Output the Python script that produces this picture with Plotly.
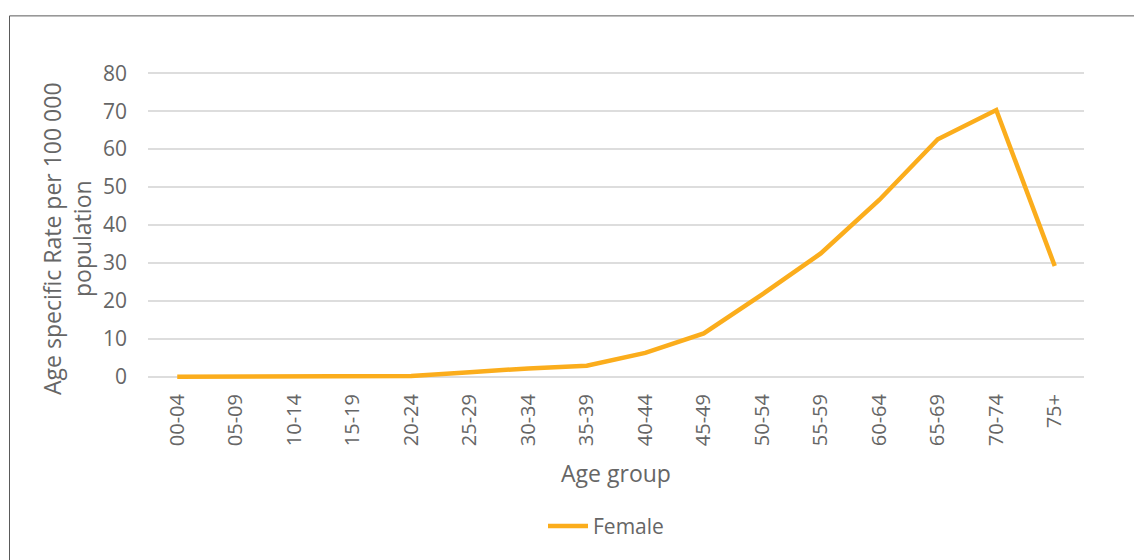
import plotly.graph_objects as go

age_groups = ["00-04", "05-09", "10-14", "15-19", "20-24", "25-29", "30-34", "35-39",
              "40-44", "45-49", "50-54", "55-59", "60-64", "65-69", "70-74", "75+"]
female_rate = [0, 0, 0, 0, 0.2, 1.2, 2.2, 2.9, 6.3, 11.4, 21.7, 32.5, 46.6, 62.6, 70.3, 29.2]
y_ticks = [0, 10, 20, 30, 40, 50, 60, 70, 80]

FONT = "Open Sans, Liberation Sans, sans-serif"
GREY = "#666666"

# page body has an 8px margin; positions below are in screenshot pixels
OFF = 8
W, H = 1142, 560
Y_MIN, Y_MAX, PAD = 0, 80, 0.6
y0_px, y80_px = 377, 73
ppu = (y0_px - y80_px) / (Y_MAX - Y_MIN)
plot_left, plot_right = 148, 1084
plot_top = y80_px - PAD * ppu
plot_bottom = y0_px + PAD * ppu
L = plot_left - OFF
T = plot_top - OFF
R = W - (plot_right - OFF)
B = H - (plot_bottom - OFF)
pw, ph = plot_right - plot_left, plot_bottom - plot_top


def px_x(p):
    return (p - plot_left) / pw


def px_y(p):
    return (plot_bottom - p) / ph


fig = go.Figure()
fig.add_trace(go.Scatter(
    x=age_groups, y=female_rate, mode="lines", name="Female",
    line=dict(color="#FBAD1C", width=4.5), cliponaxis=False,
))

fig.update_layout(
    width=W, height=H,
    margin=dict(l=L, r=R, t=T, b=B),
    paper_bgcolor="white", plot_bgcolor="white",
    font=dict(family=FONT, color=GREY, size=20),
    showlegend=True,
    legend=dict(orientation="h", x=px_x(606), xanchor="center", y=px_y(527), yanchor="middle",
                font=dict(size=21, color=GREY), itemwidth=40),
    xaxis=dict(
        type="category", range=[-0.5, 15.5], tickangle=-90,
        tickfont=dict(size=20, color=GREY), showgrid=False, showline=False,
        ticks="", ticklabelstandoff=int(round(12 - PAD * ppu)),
        title=dict(text="Age group", font=dict(size=23, color=GREY), standoff=20),
    ),
    yaxis=dict(
        range=[Y_MIN - PAD, Y_MAX + PAD], tickvals=y_ticks, showgrid=True, gridcolor="#DDDDDD",
        gridwidth=1.5, zeroline=False, showline=False, ticks="", ticklen=0, ticklabelstandoff=20,
        tickfont=dict(size=21, color=GREY),
    ),
    annotations=[dict(
        text="Age specific Rate per 100 000<br>population", textangle=-90,
        xref="paper", yref="paper", x=px_x(67), y=px_y(239),
        xanchor="center", yanchor="middle", showarrow=False,
        font=dict(size=23, color=GREY),
    )],
    shapes=[dict(type="rect", xref="paper", yref="paper",
                 x0=px_x(9.5), x1=px_x(1200), y0=px_y(600), y1=px_y(15.5),
                 line=dict(color="#5A5A5A", width=1), fillcolor="rgba(0,0,0,0)", layer="below")],
)

fig.write_html("out.html")
